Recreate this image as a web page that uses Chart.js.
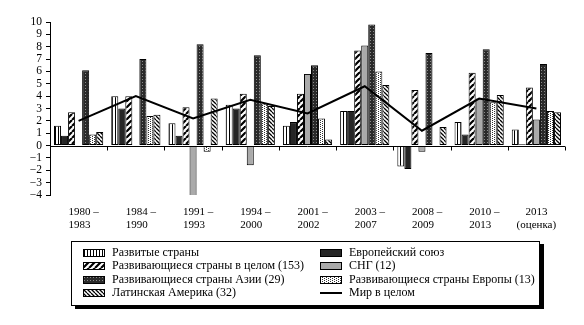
<!DOCTYPE html>
<html>
<head>
<meta charset="utf-8">
<script src="https://cdn.jsdelivr.net/npm/chart.js@4.4.1/dist/chart.umd.min.js"></script>
<style>
  body { margin: 0; background: #fff; }
  #wrap { position: relative; width: 584px; height: 325px; }
  #legend {
    position: absolute; left: 71px; top: 241px; width: 467px; height: 63px;
    border: 1px solid #000; box-shadow: 4px 3px 0 #000; background: #fff;
    font-family: "Liberation Serif", serif; font-size: 12px; color: #000;
  }
  .item { position: absolute; height: 13px; line-height: 13px; white-space: nowrap; }
  .item canvas { position: absolute; left: 0; top: 3px; }
  .item span { position: absolute; left: 29px; top: 0; }
</style>
</head>
<body>
<div id="wrap">
  <canvas id="growth" width="584" height="325"></canvas>
  <div id="legend"></div>
</div>
<script>
// periods (two-line labels under the axis)
const periodStart = ['1980 –', '1984 –', '1991 –', '1994 –', '2001 –', '2003 –', '2008 –', '2010 –', '2013'];
const periodEnd = ['1983', '1990', '1993', '2000', '2002', '2007', '2009', '2013', '(оценка)'];

// average annual GDP growth, %
const developed = [1.6, 4.0, 1.8, 3.3, 1.6, 2.8, -1.7, 1.9, 1.3];
const euUnion = [0.8, 3.0, 0.8, 3.0, 1.9, 2.8, -1.9, 0.9, 0.1];
const developingAll = [2.7, 4.0, 3.1, 4.2, 4.2, 7.7, 4.5, 5.9, 4.7];
const cis = [null, null, -4.2, -1.6, 5.8, 8.1, -0.5, 3.8, 2.1];
const developingAsia = [6.1, 7.0, 8.2, 7.3, 6.5, 9.8, 7.5, 7.8, 6.6];
const developingEurope = [0.9, 2.4, -0.5, 3.4, 2.2, 6.0, -0.1, 3.5, 2.8];
const latinAmerica = [1.1, 2.5, 3.8, 3.2, 0.5, 4.9, 1.5, 4.1, 2.7];
const world = [2.0, 4.0, 2.2, 3.7, 2.6, 4.8, 1.2, 3.8, 3.0];

const seriesNames = [
  'Развитые страны', 'Европейский союз',
  'Развивающиеся страны в целом (153)', 'СНГ (12)',
  'Развивающиеся страны Азии  (29)', 'Развивающиеся страны Европы (13)',
  'Латинская Америка (32)', 'Мир в целом'
];

const yTicks = { min: -4, max: 10, step: 1 };

// small tiled fills for the bars
function makePattern(w, h, bg, draw) {
  const c = document.createElement('canvas');
  c.width = w; c.height = h;
  const g = c.getContext('2d');
  g.fillStyle = bg;
  g.fillRect(0, 0, w, h);
  draw(g);
  return g.createPattern(c, 'repeat');
}

const fills = [
  makePattern(3, 3, '#fff', g => { g.fillStyle = '#000'; g.fillRect(1, 0, 1, 3); }),
  '#262626',
  makePattern(6, 6, '#fff', g => {
    g.strokeStyle = '#000'; g.lineWidth = 2.2; g.beginPath();
    [-6, 0, 6].forEach(o => { g.moveTo(o, 6); g.lineTo(o + 6, 0); });
    g.stroke();
  }),
  '#aaaaaa',
  makePattern(3, 3, '#2a2a2a', g => { g.fillStyle = '#8a8a8a'; g.fillRect(1, 1, 1, 1); }),
  makePattern(4, 2, '#fff', g => { g.fillStyle = '#333'; g.fillRect(0, 0, 1, 1); g.fillRect(2, 1, 1, 1); }),
  makePattern(4, 4, '#fff', g => {
    g.strokeStyle = '#000'; g.lineWidth = 1.3; g.beginPath();
    [-4, 0, 4].forEach(o => { g.moveTo(o, 0); g.lineTo(o + 4, 4); });
    g.stroke();
  })
];

const barValues = [developed, euUnion, developingAll, cis, developingAsia, developingEurope, latinAmerica];

const datasets = barValues.map((vals, i) => ({
  type: 'bar',
  label: seriesNames[i],
  data: vals,
  backgroundColor: fills[i],
  borderColor: '#000',
  borderWidth: 1,
  borderSkipped: false,
  order: 1
}));

datasets.push({
  type: 'line',
  label: seriesNames[7],
  data: world,
  borderColor: '#000',
  borderWidth: 2,
  pointRadius: 0,
  tension: 0,
  fill: false,
  order: 0
});

// zero line, period ticks and the two-line period labels
const periodAxis = {
  id: 'periodAxis',
  afterDatasetsDraw(chart) {
    const { ctx, scales: { x, y } } = chart;
    const y0 = Math.round(y.getPixelForValue(0)) + 0.5;
    ctx.save();
    ctx.strokeStyle = '#000';
    ctx.lineWidth = 1;
    ctx.beginPath();
    ctx.moveTo(x.left, y0);
    ctx.lineTo(x.right, y0);
    const step = x.width / periodStart.length;
    for (let i = 1; i <= periodStart.length; i++) {
      const px = Math.round(x.left + i * step) + 0.5;
      ctx.moveTo(px, y0);
      ctx.lineTo(px, y0 + 4);
    }
    ctx.stroke();

    ctx.font = '11px "Liberation Serif"';
    ctx.fillStyle = '#000';
    ctx.textBaseline = 'middle';
    periodStart.forEach((s, i) => {
      const cx = x.getPixelForValue(i);
      if (i === periodStart.length - 1) {
        ctx.textAlign = 'center';
        ctx.fillText(s, cx, 212);
        ctx.fillText(periodEnd[i], cx, 225);
      } else {
        ctx.textAlign = 'left';
        ctx.fillText(s, cx - 10, 212);
        ctx.fillText(periodEnd[i], cx - 10, 225);
      }
    });
    ctx.restore();
  }
};

new Chart(document.getElementById('growth'), {
  data: { labels: periodEnd, datasets: datasets },
  options: {
    responsive: false,
    animation: false,
    layout: { padding: { top: 22, right: 19, bottom: 130, left: 0 } },
    plugins: { legend: { display: false }, tooltip: { enabled: false } },
    datasets: { bar: { categoryPercentage: 0.86, barPercentage: 1.0 } },
    scales: {
      x: { display: false },
      y: {
        min: yTicks.min,
        max: yTicks.max,
        afterFit: s => { s.width = 50; },
        border: { display: true, color: '#000', width: 1 },
        grid: { drawOnChartArea: false, tickLength: 4, tickColor: '#000' },
        ticks: {
          stepSize: yTicks.step,
          autoSkip: false,
          padding: 4,
          color: '#000',
          font: { family: 'Liberation Serif', size: 11.5 },
          callback: v => v < 0 ? '\u2212' + Math.abs(v) : String(v)
        }
      }
    }
  },
  plugins: [periodAxis]
});

// legend: two columns, same fills as the bars
const legend = document.getElementById('legend');
seriesNames.forEach((name, i) => {
  const item = document.createElement('div');
  item.className = 'item';
  item.style.left = (i % 2 === 0 ? 11 : 248) + 'px';
  item.style.top = (4 + Math.floor(i / 2) * 13.3) + 'px';
  const sw = document.createElement('canvas');
  sw.width = 22; sw.height = 8;
  const g = sw.getContext('2d');
  if (i < 7) {
    g.fillStyle = fills[i];
    g.fillRect(0, 0, 22, 8);
    g.strokeStyle = '#000';
    g.strokeRect(0.5, 0.5, 21, 7);
  } else {
    g.fillStyle = '#000';
    g.fillRect(0, 3, 22, 2);
  }
  const label = document.createElement('span');
  label.textContent = name;
  item.appendChild(sw);
  item.appendChild(label);
  legend.appendChild(item);
});
</script>
</body>
</html>
